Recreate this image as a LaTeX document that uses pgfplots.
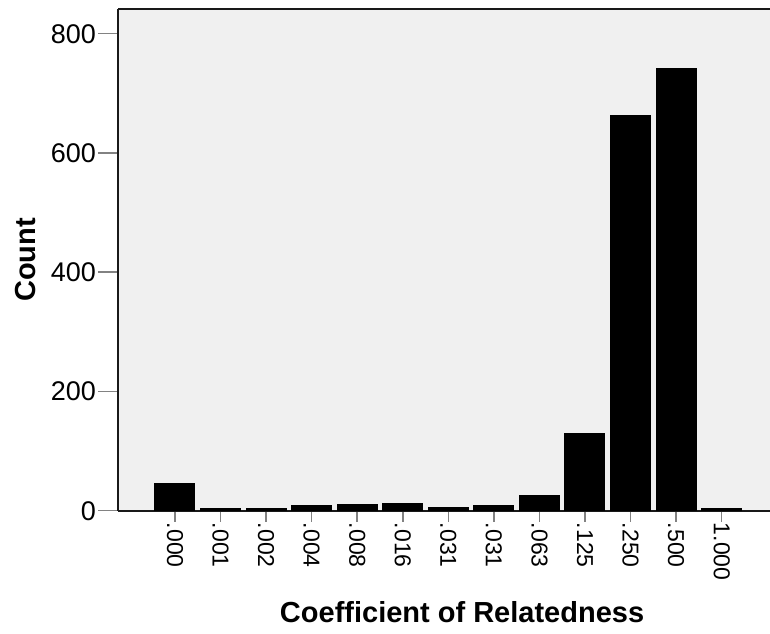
\documentclass[border=0pt]{standalone}
\usepackage{pgfplots}
\pgfplotsset{compat=1.18}
\usepackage{fontspec}
\setmainfont{Liberation Sans}
\definecolor{bgray}{RGB}{240,240,240}
\definecolor{tgray}{RGB}{130,130,130}
\begin{document}
\begin{tikzpicture}[x=1pt,y=1pt]
\useasboundingbox (0,0) rectangle (770,633);
\begin{axis}[
  at={(118pt,122.3pt)}, anchor=south west,
  scale only axis,
  width=672pt, height=501.4pt,
  xmin=-1.25, xmax=13.5,
  ymin=0, ymax=841,
  axis background/.style={fill=bgray},
  separate axis lines,
  axis line style={line width=2pt, black!90},
  ybar, bar width=40pt,
  bar shift=0pt,
  xtick={0,...,12},
  xticklabels={.000,.001,.002,.004,.008,.016,.031,.031,.063,.125,.250,.500,1.000},
  ytick={0,200,400,600,800},
  minor ytick={0,200,400,600,800},
  tick align=outside,
  tick pos=left,
  major tick length=11pt,
  minor tick length=20pt,
  every major x tick/.append style={tgray, line width=1.5pt},
  every major y tick/.append style={draw=none},
  every minor y tick/.append style={tgray, line width=1.5pt},
  /pgf/number format/assume math mode=true,
  yticklabel style={font=\fontsize{27}{30}\selectfont, inner sep=2pt, xshift=-9pt},
  xticklabel style={font=\fontsize{23}{26}\selectfont, rotate=-90, anchor=west, inner sep=1pt},
  xlabel={Coefficient of Relatedness},
  ylabel={Count},
  xlabel style={font=\bfseries\fontsize{29}{32}\selectfont, at={(axis description cs:0.512,-0.222)}, anchor=base},
  ylabel style={font=\bfseries\fontsize{29}{32}\selectfont, at={(axis description cs:-0.138,0.5)}, anchor=center},
]
\addplot[fill=black, draw=black, line width=0pt] coordinates {
 (0,46) (1,4) (2,3) (3,8) (4,11) (5,12) (6,5) (7,9) (8,26) (9,130) (10,663) (11,741) (12,4)
};
\end{axis}
\end{tikzpicture}
\end{document}
